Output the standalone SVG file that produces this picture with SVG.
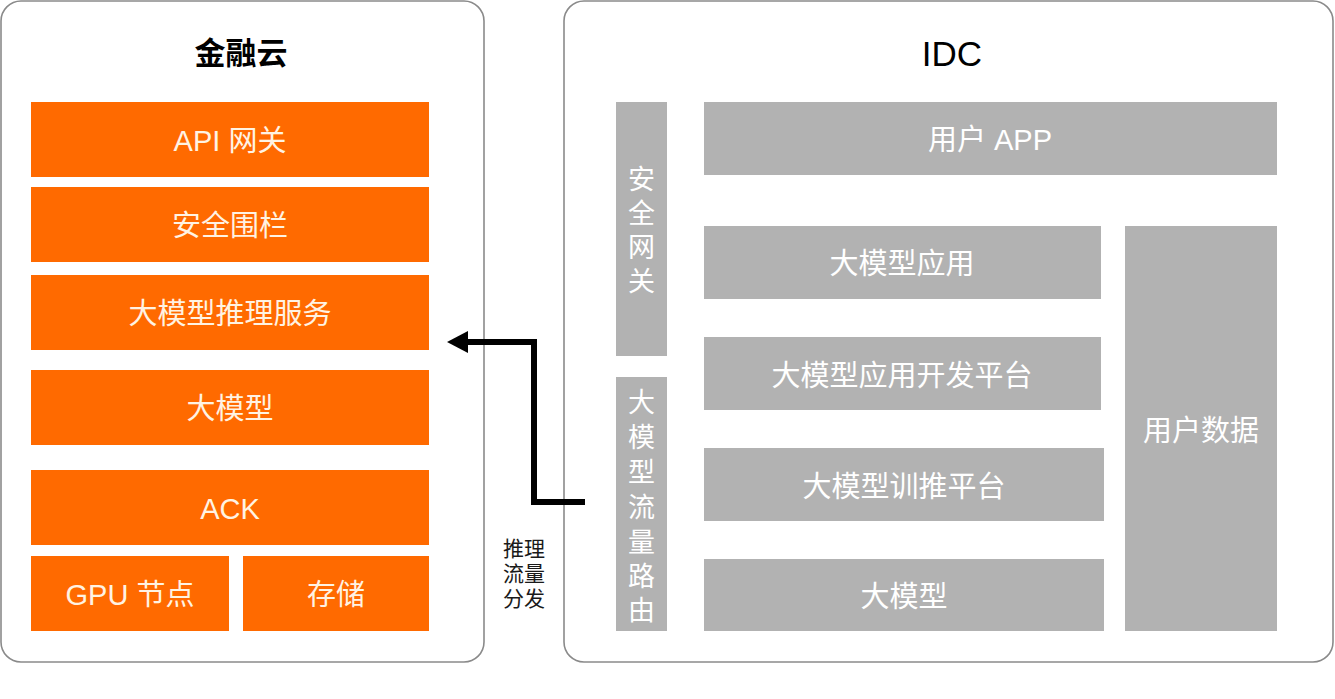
<svg xmlns="http://www.w3.org/2000/svg" width="1335" height="699" viewBox="0 0 1335 699">
<defs>
<style>
.panel{fill:#fff;stroke:#8a8a8a;stroke-width:1.6}
.org{fill:#FF6A00}
.gry{fill:#B2B2B2}
.t{font-family:"Liberation Sans","Noto Sans CJK SC",sans-serif;text-anchor:middle;dominant-baseline:central}
.to{fill:#FFF3E3;font-size:29px}
.tg{fill:#FFFFFF;font-size:29px}
.tv{fill:#FFFFFF;font-size:27px}
.title{fill:#000;font-weight:bold}
.lbl{fill:#1a1a1a;font-size:21px}
.conn{fill:none;stroke:#000;stroke-width:6;stroke-linejoin:miter}
</style>
</defs>
<rect width="1335" height="699" fill="#fff"/>
<g id="panel-finance">
<rect class="panel" x="1" y="1" width="483" height="661" rx="20"/>
<text class="t title" x="241" y="53" font-size="31">金融云</text>
</g>
<g id="panel-idc">
<rect class="panel" x="564" y="1" width="769" height="661" rx="20"/>
<text class="t title" x="952" y="53" font-size="35" font-weight="normal" style="font-weight:normal">IDC</text>
</g>
<g id="api-gateway"><rect class="org" x="31" y="102" width="398" height="75"/><text class="t to" x="230" y="141">API 网关</text></g>
<g id="security-fence"><rect class="org" x="31" y="187" width="398" height="75"/><text class="t to" x="230" y="226">安全围栏</text></g>
<g id="llm-inference"><rect class="org" x="31" y="275" width="398" height="75"/><text class="t to" x="230" y="314">大模型推理服务</text></g>
<g id="llm-cloud"><rect class="org" x="31" y="370" width="398" height="75"/><text class="t to" x="230" y="409">大模型</text></g>
<g id="ack"><rect class="org" x="31" y="470" width="398" height="75"/><text class="t to" x="230" y="509">ACK</text></g>
<g id="gpu-node"><rect class="org" x="31" y="556" width="198" height="75"/><text class="t to" x="130" y="595">GPU 节点</text></g>
<g id="storage"><rect class="org" x="243" y="556" width="186" height="75"/><text class="t to" x="336" y="595">存储</text></g>

<g id="security-gateway"><rect class="gry" x="616" y="102" width="51" height="254"/>
<text class="t tv" x="641.5"><tspan x="641.5" y="180">安</tspan><tspan x="641.5" y="214">全</tspan><tspan x="641.5" y="248">网</tspan><tspan x="641.5" y="282">关</tspan></text></g>
<g id="llm-traffic-routing"><rect class="gry" x="616" y="377" width="51" height="254"/>
<text class="t tv" x="641.5"><tspan x="641.5" y="403">大</tspan><tspan x="641.5" y="438">模</tspan><tspan x="641.5" y="473">型</tspan><tspan x="641.5" y="508">流</tspan><tspan x="641.5" y="543">量</tspan><tspan x="641.5" y="577">路</tspan><tspan x="641.5" y="611">由</tspan></text></g>
<g id="user-app"><rect class="gry" x="704" y="102" width="573" height="73"/><text class="t tg" x="990" y="140">用户 APP</text></g>
<g id="llm-app"><rect class="gry" x="704" y="226" width="397" height="73"/><text class="t tg" x="902" y="264">大模型应用</text></g>
<g id="llm-app-dev"><rect class="gry" x="704" y="337" width="397" height="73"/><text class="t tg" x="902" y="376">大模型应用开发平台</text></g>
<g id="llm-train-infer"><rect class="gry" x="704" y="448" width="400" height="73"/><text class="t tg" x="904" y="487">大模型训推平台</text></g>
<g id="llm-idc"><rect class="gry" x="704" y="559" width="400" height="72"/><text class="t tg" x="904" y="597">大模型</text></g>
<g id="user-data"><rect class="gry" x="1125" y="226" width="152" height="405"/><text class="t tg" x="1201" y="431">用户数据</text></g>

<g id="connectors">
<polyline class="conn" points="585,502 534,502 534,342 466,342"/>
<polygon points="447,342 468,331 468,353" fill="#000"/>
<text class="t lbl" x="524"><tspan x="524" y="548">推理</tspan><tspan x="524" y="573">流量</tspan><tspan x="524" y="598">分发</tspan></text>
</g>
</svg>
